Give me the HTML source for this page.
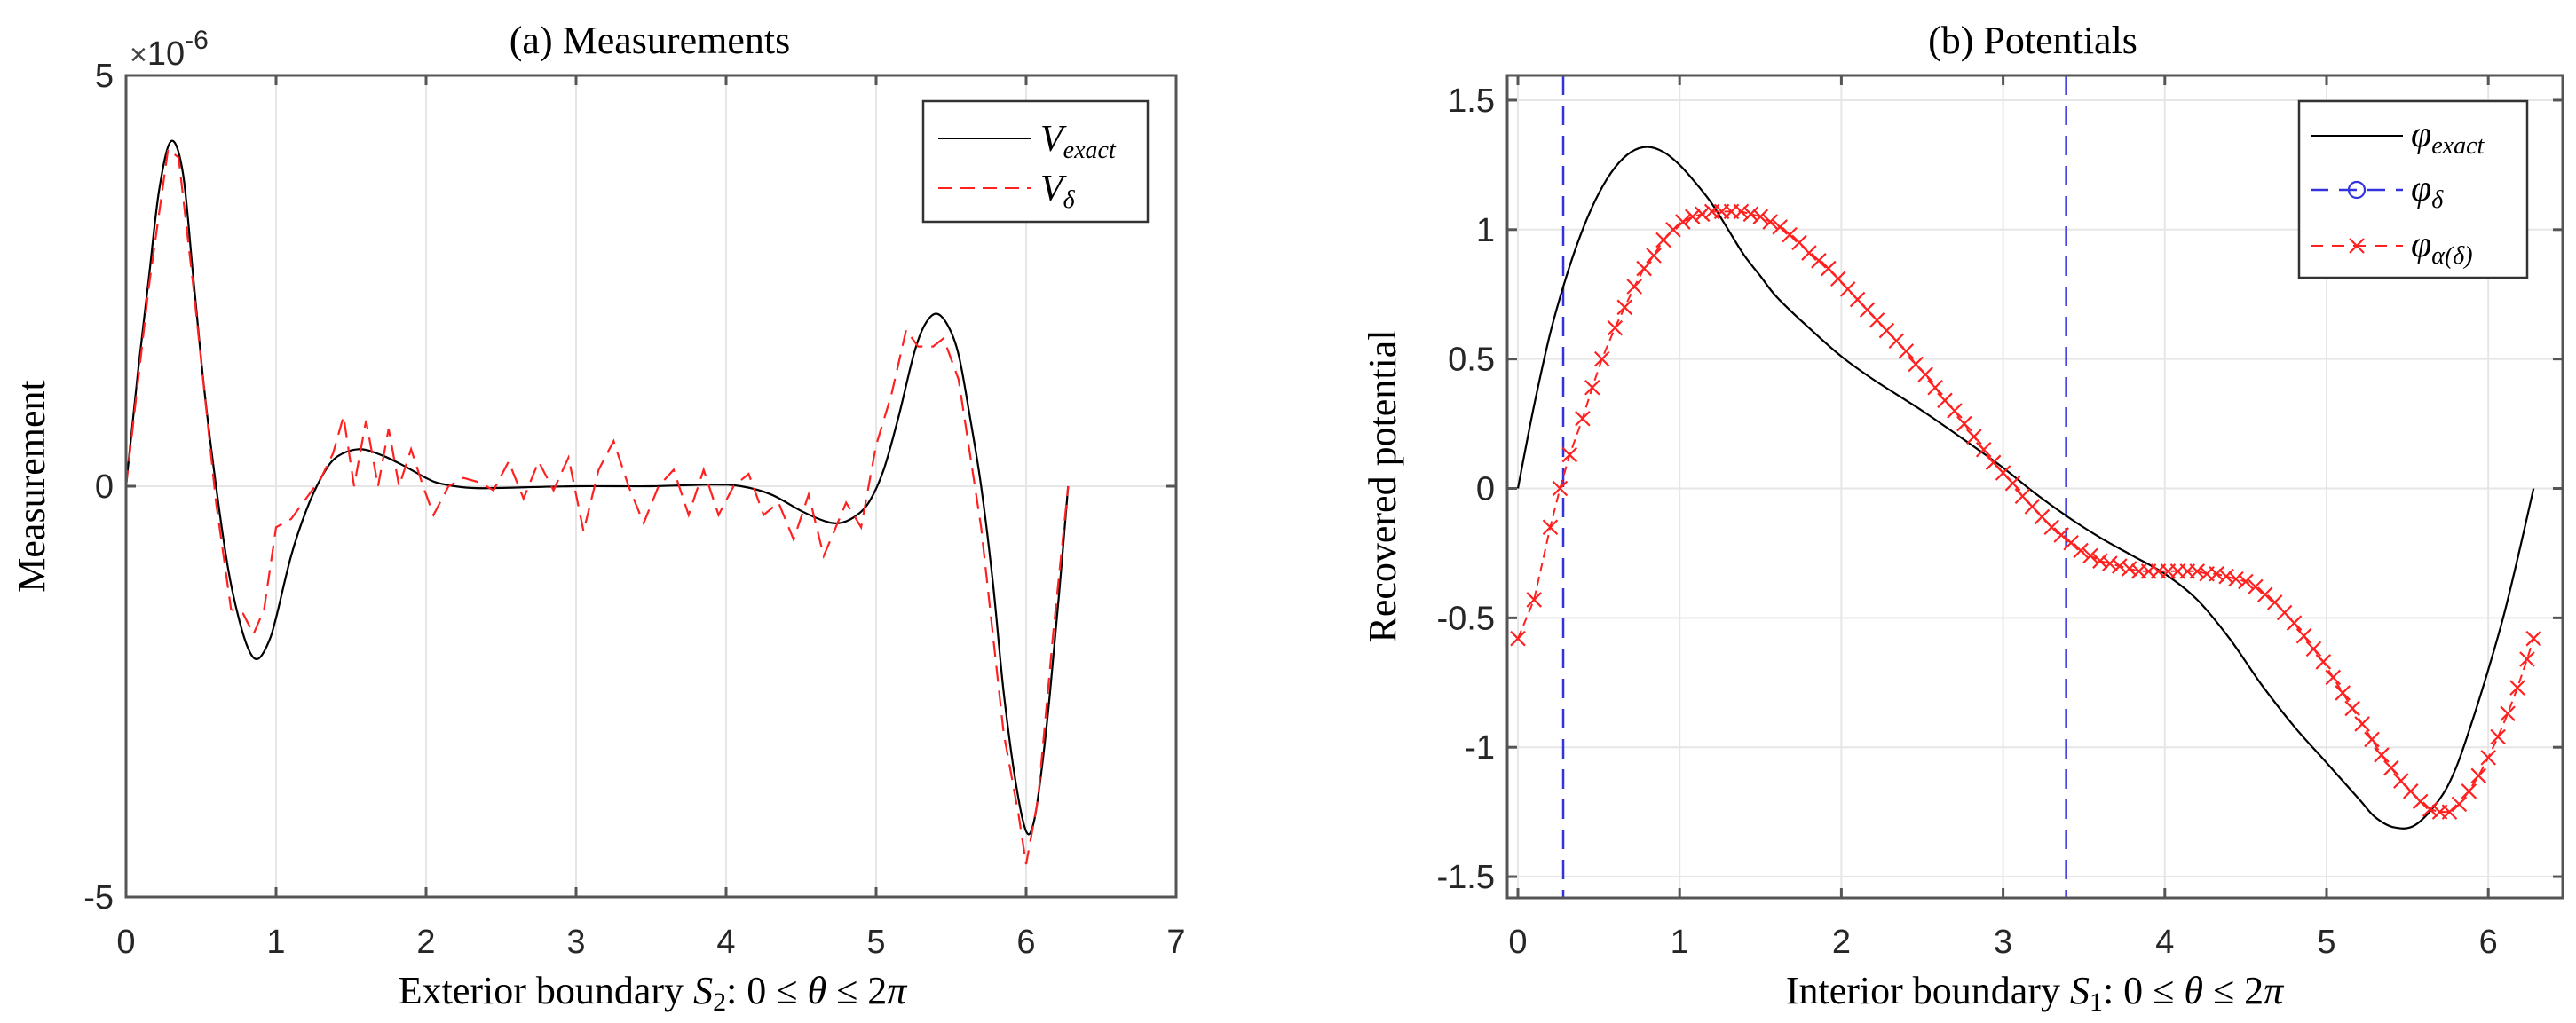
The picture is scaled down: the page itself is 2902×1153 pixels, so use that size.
<!DOCTYPE html>
<html><head><meta charset="utf-8"><style>
html,body{margin:0;padding:0;background:#fff;}
svg{display:block;}
.tk{font-family:"Liberation Sans",sans-serif;font-size:38px;fill:#262626;}
.sf{font-family:"Liberation Serif",serif;fill:#000;}
</style></head><body>
<svg id="fig" width="2902" height="1153" viewBox="0 0 2902 1153" xmlns="http://www.w3.org/2000/svg">
<rect width="2902" height="1153" fill="#fff"/>
<g id="left"></g>
<g id="right"></g>
</svg>
<script>
// ---- Left chart data (units of 1e-6) ----
const vExactX = [0,0.08,0.15,0.22,0.3,0.38,0.45,0.52,0.6,0.68,0.75,0.82,0.88,0.95,1.0,1.1,1.2,1.3,1.4,1.55,1.7,1.85,2.0,2.1,2.3,2.5,3.0,3.5,3.9,4.1,4.3,4.5,4.65,4.75,4.85,4.95,5.05,5.15,5.25,5.32,5.4,5.48,5.55,5.62,5.7,5.78,5.85,5.93,6.0,6.05,6.1,6.16,6.22,6.28];
const vExactY = [0,1.4,2.5,3.6,4.2,3.8,2.5,1.2,0,-1.0,-1.6,-2.0,-2.1,-1.9,-1.6,-0.85,-0.3,0.1,0.35,0.45,0.38,0.25,0.1,0.03,-0.02,-0.02,0,0,0.02,0.0,-0.1,-0.3,-0.42,-0.45,-0.38,-0.2,0.2,0.85,1.6,1.95,2.1,1.95,1.6,0.9,0,-1.2,-2.5,-3.6,-4.2,-4.1,-3.5,-2.5,-1.3,0];
const vDeltaX = [0,0.15,0.28,0.35,0.45,0.6,0.7,0.78,0.85,0.92,1.0,1.1,1.2,1.3,1.38,1.45,1.52,1.6,1.68,1.75,1.82,1.9,1.98,2.05,2.15,2.25,2.35,2.45,2.55,2.65,2.75,2.85,2.95,3.05,3.15,3.25,3.35,3.45,3.55,3.65,3.75,3.85,3.95,4.05,4.15,4.25,4.35,4.45,4.55,4.65,4.72,4.8,4.9,5.0,5.1,5.2,5.28,5.38,5.45,5.55,5.7,5.85,5.95,6.0,6.08,6.18,6.28];
const vDeltaY = [0,2.4,4.1,4.0,2.4,-0.2,-1.5,-1.55,-1.8,-1.5,-0.5,-0.4,-0.15,0.1,0.4,0.85,0.0,0.8,0.0,0.7,0.0,0.45,0.0,-0.35,0.0,0.1,0.05,-0.05,0.3,-0.15,0.3,-0.05,0.35,-0.55,0.2,0.55,0.0,-0.45,0.0,0.2,-0.35,0.2,-0.35,0.0,0.15,-0.35,-0.2,-0.65,-0.1,-0.85,-0.55,-0.2,-0.5,0.5,1.1,1.9,1.7,1.7,1.8,1.3,-0.5,-3.0,-4.0,-4.6,-3.8,-1.8,0];
const leftXTicks = [0,1,2,3,4,5,6,7];
const leftYTicks = [-5,0,5];

// ---- Right chart data ----
const phiExactX = [0,0.1,0.2,0.3,0.4,0.5,0.6,0.7,0.8,0.9,1.0,1.1,1.2,1.3,1.4,1.5,1.6,1.8,2.0,2.2,2.5,2.8,3.0,3.2,3.4,3.6,3.8,4.0,4.2,4.4,4.6,4.8,5.0,5.2,5.3,5.42,5.55,5.7,5.8,5.9,6.0,6.1,6.2,6.28];
const phiExactY = [0,0.32,0.6,0.82,1.0,1.14,1.24,1.3,1.32,1.3,1.25,1.18,1.1,1.0,0.9,0.82,0.74,0.62,0.51,0.42,0.3,0.17,0.08,-0.02,-0.11,-0.19,-0.26,-0.33,-0.43,-0.58,-0.76,-0.92,-1.06,-1.2,-1.27,-1.31,-1.3,-1.2,-1.08,-0.9,-0.7,-0.48,-0.22,0];
const phiAlphaX = [0,0.1,0.2,0.26,0.32,0.4,0.46,0.52,0.6,0.66,0.72,0.78,0.84,0.9,0.96,1.02,1.08,1.14,1.2,1.26,1.32,1.38,1.44,1.5,1.56,1.62,1.68,1.74,1.8,1.86,1.92,1.98,2.04,2.1,2.16,2.22,2.28,2.34,2.4,2.46,2.52,2.58,2.64,2.7,2.76,2.82,2.88,2.94,3.0,3.06,3.12,3.18,3.24,3.3,3.36,3.42,3.48,3.54,3.6,3.66,3.72,3.78,3.84,3.9,3.96,4.02,4.08,4.14,4.2,4.26,4.32,4.38,4.44,4.5,4.56,4.62,4.68,4.74,4.8,4.86,4.92,4.98,5.04,5.1,5.16,5.22,5.28,5.34,5.4,5.46,5.52,5.58,5.64,5.7,5.76,5.82,5.88,5.94,6.0,6.06,6.12,6.18,6.24,6.28];
const phiAlphaY = [-0.58,-0.43,-0.15,0,0.13,0.27,0.39,0.5,0.62,0.7,0.78,0.85,0.9,0.96,1.0,1.03,1.05,1.06,1.07,1.07,1.07,1.07,1.06,1.05,1.03,1.01,0.98,0.95,0.91,0.88,0.85,0.81,0.77,0.73,0.69,0.65,0.61,0.57,0.53,0.48,0.44,0.39,0.34,0.3,0.25,0.2,0.15,0.1,0.06,0.02,-0.03,-0.07,-0.11,-0.15,-0.18,-0.21,-0.24,-0.26,-0.28,-0.29,-0.3,-0.31,-0.32,-0.32,-0.32,-0.32,-0.32,-0.32,-0.32,-0.33,-0.33,-0.34,-0.35,-0.36,-0.38,-0.41,-0.44,-0.48,-0.52,-0.57,-0.62,-0.67,-0.73,-0.79,-0.85,-0.91,-0.97,-1.03,-1.08,-1.13,-1.17,-1.21,-1.24,-1.25,-1.25,-1.22,-1.17,-1.11,-1.04,-0.96,-0.87,-0.77,-0.66,-0.58];
const phiDeltaLines = [0.28,3.39];
const rightXTicks = [0,1,2,3,4,5,6];
const rightYTicks = [-1.5,-1,-0.5,0,0.5,1,1.5];
const rightYLabels = ['-1.5','-1','-0.5','0','0.5','1','1.5'];

const NS='http://www.w3.org/2000/svg';
function mk(parent,tag,attrs,text){const e=document.createElementNS(NS,tag);for(const k in attrs)e.setAttribute(k,attrs[k]);if(text!==undefined)e.textContent=text;parent.appendChild(e);return e;}

const L={x0:142,x1:1325,y0:85,y1:1011,xmin:0,xmax:7,ymin:-5,ymax:5};
const lx=v=>L.x0+(v-L.xmin)/(L.xmax-L.xmin)*(L.x1-L.x0);
const ly=v=>L.y1-(v-L.ymin)/(L.ymax-L.ymin)*(L.y1-L.y0);
const R={x0:1698,x1:2887,y0:85,y1:1012};
const rx=v=>1710+v*182.2;
const ry=v=>550.5-v*291.7;

function axes(g,A,fx,fy,xt,yt){
  xt.forEach(t=>{const X=fx(t);
    const gl=mk(g,'line',{x1:X,x2:X,y1:A.y0,y2:A.y1,stroke:'#e6e6e6','stroke-width':2});
    
    
  });
  yt.forEach(t=>{const Y=fy(t);
    const gl=mk(g,'line',{x1:A.x0,x2:A.x1,y1:Y,y2:Y,stroke:'#e6e6e6','stroke-width':2});
    
    
  });
}
function frame(g,A,fx,fy,xt,yt,ylab){
  const b=mk(g,'rect',{x:A.x0,y:A.y0,width:A.x1-A.x0,height:A.y1-A.y0,fill:'none',stroke:'#555','stroke-width':3});
  
  
  xt.forEach(t=>{const X=fx(t);
    mk(g,'line',{x1:X,x2:X,y1:A.y1,y2:A.y1-11,stroke:'#555','stroke-width':3});
    mk(g,'line',{x1:X,x2:X,y1:A.y0,y2:A.y0+11,stroke:'#555','stroke-width':3});
    const tl=mk(g,'text',{x:X,y:1074,'text-anchor':'middle',class:'tk'},String(t));
    
    
  });
  yt.forEach((t,i)=>{const Y=fy(t);
    mk(g,'line',{x1:A.x0,x2:A.x0+11,y1:Y,y2:Y,stroke:'#555','stroke-width':3});
    mk(g,'line',{x1:A.x1,x2:A.x1-11,y1:Y,y2:Y,stroke:'#555','stroke-width':3});
    const tl=mk(g,'text',{x:A.x0-14,y:Y+13,'text-anchor':'end',class:'tk'},ylab?ylab[i]:String(t));
    
    
  });
}
function path(g,xs,ys,fx,fy,attrs){
  let d='';xs.forEach((x,i)=>{d+=(i?'L':'M')+fx(x).toFixed(1)+' '+fy(ys[i]).toFixed(1);});
  return mk(g,'path',Object.assign({d:d,fill:'none'},attrs));
}
function smooth(g,xs,ys,fx,fy,attrs){
  const P=xs.map((x,i)=>[fx(x),fy(ys[i])]);
  let d='M'+P[0][0].toFixed(1)+' '+P[0][1].toFixed(1);
  for(let i=0;i<P.length-1;i++){
    const p0=P[Math.max(0,i-1)],p1=P[i],p2=P[i+1],p3=P[Math.min(P.length-1,i+2)];
    const c1=[p1[0]+(p2[0]-p0[0])/6,p1[1]+(p2[1]-p0[1])/6];
    const c2=[p2[0]-(p3[0]-p1[0])/6,p2[1]-(p3[1]-p1[1])/6];
    d+='C'+c1[0].toFixed(1)+' '+c1[1].toFixed(1)+' '+c2[0].toFixed(1)+' '+c2[1].toFixed(1)+' '+p2[0].toFixed(1)+' '+p2[1].toFixed(1);
  }
  return mk(g,'path',Object.assign({d:d,fill:'none'},attrs));
}

// ---------- LEFT ----------
const gL=document.getElementById('left');
axes(gL,L,lx,ly,leftXTicks,leftYTicks);
const pe=smooth(gL,vExactX,vExactY,lx,ly,{stroke:'#000','stroke-width':2.2});


const pd=path(gL,vDeltaX,vDeltaY,lx,ly,{stroke:'#ff2020','stroke-width':2.2,'stroke-dasharray':'18 10'});


frame(gL,L,lx,ly,leftXTicks,leftYTicks);
const exp=mk(gL,'text',{x:146,y:73,class:'tk'});
exp.innerHTML='<tspan font-size="34" fill="#444">×</tspan><tspan>10</tspan><tspan dy="-18" font-size="30">-6</tspan>';


const t1=mk(gL,'text',{x:732,y:60,'text-anchor':'middle',class:'sf','font-size':44},'(a) Measurements');


const yl1=mk(gL,'text',{x:0,y:0,'text-anchor':'middle',class:'sf','font-size':44,transform:'translate(50,548) rotate(-90)'},'Measurement');


const xl1=mk(gL,'text',{x:735,y:1131,'text-anchor':'middle',class:'sf','font-size':44});
xl1.innerHTML='Exterior boundary <tspan font-style="italic">S</tspan><tspan font-size="30" dy="8">2</tspan><tspan dy="-8">: 0 ≤ </tspan><tspan font-style="italic">θ</tspan> ≤ 2<tspan font-style="italic">π</tspan>';


const lgL=mk(gL,'g',{});


mk(lgL,'rect',{x:1040,y:114,width:253,height:136,fill:'#fff',stroke:'#333','stroke-width':2.5});
mk(lgL,'line',{x1:1057,x2:1162,y1:156,y2:156,stroke:'#000','stroke-width':2});
mk(lgL,'line',{x1:1057,x2:1162,y1:212,y2:212,stroke:'#ff2020','stroke-width':2,'stroke-dasharray':'16 9'});
const le1=mk(lgL,'text',{x:1172,y:170,class:'sf','font-size':42,'font-style':'italic'});
le1.innerHTML='V<tspan font-size="28" dy="8">exact</tspan>';


const le2=mk(lgL,'text',{x:1172,y:226,class:'sf','font-size':42,'font-style':'italic'});
le2.innerHTML='V<tspan font-size="28" dy="8">δ</tspan>';



// ---------- RIGHT ----------
const gR=document.getElementById('right');
axes(gR,R,rx,ry,rightXTicks,rightYTicks);
phiDeltaLines.forEach(v=>{
  const l=mk(gR,'line',{x1:rx(v),x2:rx(v),y1:R.y0,y2:R.y1,stroke:'#3333dd','stroke-width':2.5,'stroke-dasharray':'22 12'});
  
  
});
const pr=smooth(gR,phiExactX,phiExactY,rx,ry,{stroke:'#000','stroke-width':2.2});


const pa=path(gR,phiAlphaX,phiAlphaY,rx,ry,{stroke:'#ff2020','stroke-width':2,'stroke-dasharray':'10 6'});


phiAlphaX.forEach((x,i)=>{
  const X=rx(x),Y=ry(phiAlphaY[i]),s=8;
  const m=mk(gR,'path',{d:`M${X-s} ${Y-s}L${X+s} ${Y+s}M${X-s} ${Y+s}L${X+s} ${Y-s}`,stroke:'#ff2020','stroke-width':2.2});
  
  
});
frame(gR,R,rx,ry,rightXTicks,rightYTicks,rightYLabels);
const t2=mk(gR,'text',{x:2290,y:60,'text-anchor':'middle',class:'sf','font-size':44},'(b) Potentials');


const yl2=mk(gR,'text',{x:0,y:0,'text-anchor':'middle',class:'sf','font-size':44,transform:'translate(1572,548) rotate(-90)'},'Recovered potential');


const xl2=mk(gR,'text',{x:2292,y:1131,'text-anchor':'middle',class:'sf','font-size':44});
xl2.innerHTML='Interior boundary <tspan font-style="italic">S</tspan><tspan font-size="30" dy="8">1</tspan><tspan dy="-8">: 0 ≤ </tspan><tspan font-style="italic">θ</tspan> ≤ 2<tspan font-style="italic">π</tspan>';


const lgR=mk(gR,'g',{});


mk(lgR,'rect',{x:2590,y:114,width:257,height:199,fill:'#fff',stroke:'#333','stroke-width':2.5});
mk(lgR,'line',{x1:2603,x2:2707,y1:153,y2:153,stroke:'#000','stroke-width':2});
mk(lgR,'line',{x1:2603,x2:2707,y1:214,y2:214,stroke:'#3333dd','stroke-width':2.5,'stroke-dasharray':'20 12'});
mk(lgR,'circle',{cx:2655,cy:214,r:9,fill:'none',stroke:'#3333dd','stroke-width':2.2});
mk(lgR,'line',{x1:2603,x2:2707,y1:277,y2:277,stroke:'#ff2020','stroke-width':2,'stroke-dasharray':'14 10'});
mk(lgR,'path',{d:'M2647 269L2663 285M2647 285L2663 269',stroke:'#ff2020','stroke-width':2.2});
const r1=mk(lgR,'text',{x:2716,y:165,class:'sf','font-size':42,'font-style':'italic'});
r1.innerHTML='φ<tspan font-size="28" dy="8">exact</tspan>';


const r2=mk(lgR,'text',{x:2716,y:226,class:'sf','font-size':42,'font-style':'italic'});
r2.innerHTML='φ<tspan font-size="28" dy="8">δ</tspan>';


const r3=mk(lgR,'text',{x:2716,y:289,class:'sf','font-size':42,'font-style':'italic'});
r3.innerHTML='φ<tspan font-size="28" dy="8">α(δ)</tspan>';


</script>
</body></html>
